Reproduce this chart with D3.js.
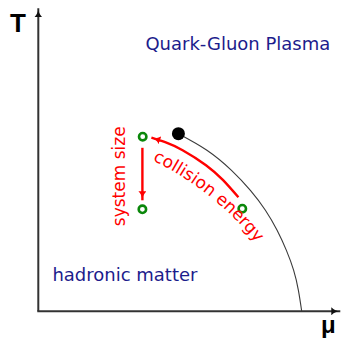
<!DOCTYPE html>
<html><head><meta charset="utf-8">
<script src="https://cdn.jsdelivr.net/npm/d3@7"></script>
<style>html,body{margin:0;padding:0;background:#fff;overflow:hidden}</style>
</head><body><svg id="chart" width="342" height="343"></svg>
<script>
// ---- data (in chart units: mu and T, both 0..1 along the axes) ----
const axisLabels = ["μ", "T"];
const regionLabels = ["Quark-Gluon Plasma", "hadronic matter"];
const regionMu = [0.357, 0.047];
const regionT = [0.87, 0.10];
const phaseMu = [0.467, 0.562, 0.644, 0.707, 0.757, 0.796, 0.827, 0.851, 0.867, 0.878];
const phaseT  = [0.592, 0.537, 0.470, 0.403, 0.337, 0.270, 0.203, 0.137, 0.070, 0.000];
const criticalMu = [0.467];
const criticalT = [0.592];
const systemMu = [0.348, 0.347, 0.680];
const systemT  = [0.582, 0.340, 0.342];
const energyArrowMu = [0.667, 0.616, 0.559, 0.481, 0.425, 0.377];
const energyArrowT  = [0.380, 0.437, 0.487, 0.537, 0.563, 0.579];
const sizeArrowMu = [0.347, 0.347];
const sizeArrowT  = [0.545, 0.370];
const arrowLabels = ["collision energy", "system size"];
const energyLabelPathMu = [0.366, 0.832];
const energyLabelPathT  = [0.510, 0.068];
const sizeLabelMu = [0.290];
const sizeLabelT = [0.450];

const W = 342, H = 343;
const svg = d3.select("#chart");
const x = d3.scaleLinear().domain([0, 1]).range([38.3, 338.3]);
const y = d3.scaleLinear().domain([0, 1]).range([311.3, 11.3]);

const defs = svg.append("defs");
function marker(id, color, len, wid) {
  defs.append("marker").attr("id", id)
    .attr("markerUnits", "userSpaceOnUse")
    .attr("viewBox", `0 ${-wid/2} ${len} ${wid}`)
    .attr("refX", len).attr("refY", 0)
    .attr("markerWidth", len).attr("markerHeight", wid)
    .attr("orient", "auto")
    .append("path")
    .attr("d", `M0,${-wid/2} Q${len*0.45},0 ${len},0 Q${len*0.45},0 0,${wid/2} Z`)
    .attr("fill", color);
}
marker("axArrow", "#111", 9, 8);
marker("redArrow", "#ff0000", 9, 8);

// axes
svg.append("line")
  .attr("x1", x(0)).attr("y1", y(0)).attr("x2", x(0)).attr("y2", y(1) - 3)
  .attr("stroke", "#333").attr("stroke-width", 2).attr("marker-end", "url(#axArrow)");
svg.append("line")
  .attr("x1", x(0) - 1).attr("y1", y(0)).attr("x2", x(1) + 2).attr("y2", y(0))
  .attr("stroke", "#333").attr("stroke-width", 2).attr("marker-end", "url(#axArrow)");

svg.append("text").text(axisLabels[1])
  .attr("x", 10).attr("y", 32)
  .attr("font-family", "Liberation Sans, Arial, sans-serif").attr("font-weight", "bold")
  .attr("font-size", 26).attr("fill", "#000");
svg.append("text").text(axisLabels[0])
  .attr("x", 321).attr("y", 333)
  .attr("font-family", "Liberation Sans, Arial, sans-serif").attr("font-weight", "bold")
  .attr("font-size", 24).attr("fill", "#000");

// region labels
svg.selectAll("text.region").data(regionLabels).enter().append("text")
  .attr("class", "region")
  .attr("x", (d, i) => x(regionMu[i])).attr("y", (d, i) => y(regionT[i]))
  .attr("font-family", "DejaVu Sans, sans-serif").attr("font-size", 18)
  .attr("fill", "#1c1c8c").text(d => d);

// phase boundary
const phasePts = phaseMu.map((m, i) => [m, phaseT[i]]);
svg.append("path")
  .attr("d", d3.line().x(d => x(d[0])).y(d => y(d[1])).curve(d3.curveNatural)(phasePts))
  .attr("fill", "none").attr("stroke", "#3a3a3a").attr("stroke-width", 1.1);

// critical point
svg.selectAll("circle.cp").data(criticalMu).enter().append("circle")
  .attr("class", "cp")
  .attr("cx", d => x(d)).attr("cy", (d, i) => y(criticalT[i])).attr("r", 6.5)
  .attr("fill", "#000");

// collision energy arrow
const energyPts = energyArrowMu.map((m, i) => [m, energyArrowT[i]]);
svg.append("path")
  .attr("d", d3.line().x(d => x(d[0])).y(d => y(d[1])).curve(d3.curveNatural)(energyPts))
  .attr("fill", "none").attr("stroke", "#ff0000").attr("stroke-width", 2.4)
  .attr("marker-end", "url(#redArrow)");

// system size arrow
svg.append("line")
  .attr("x1", x(sizeArrowMu[0])).attr("y1", y(sizeArrowT[0]))
  .attr("x2", x(sizeArrowMu[1])).attr("y2", y(sizeArrowT[1]))
  .attr("stroke", "#ff0000").attr("stroke-width", 2.4)
  .attr("marker-end", "url(#redArrow)");

// systems (open green circles)
svg.selectAll("circle.sys").data(systemMu).enter().append("circle")
  .attr("class", "sys")
  .attr("cx", d => x(d)).attr("cy", (d, i) => y(systemT[i])).attr("r", 3.7)
  .attr("fill", "#fff").attr("stroke", "#0a870a").attr("stroke-width", 2.6);

// collision energy label along an arc
const p0 = [x(energyLabelPathMu[0]), y(energyLabelPathT[0])];
const p1 = [x(energyLabelPathMu[1]), y(energyLabelPathT[1])];
const R = 300;
defs.append("path").attr("id", "energyPath")
  .attr("d", `M${p0[0]},${p0[1]} A${R},${R} 0 0 1 ${p1[0]},${p1[1]}`);
svg.append("text")
  .attr("font-family", "DejaVu Sans, sans-serif").attr("font-size", 17)
  .attr("fill", "#ff0000")
  .append("textPath").attr("href", "#energyPath").attr("startOffset", 5)
  .text(arrowLabels[0]);

// system size label (rotated)
svg.append("text")
  .attr("transform", `translate(${x(sizeLabelMu[0])},${y(sizeLabelT[0])}) rotate(-90)`)
  .attr("text-anchor", "middle")
  .attr("font-family", "DejaVu Sans, sans-serif").attr("font-size", 17)
  .attr("fill", "#ff0000").text(arrowLabels[1]);
</script></body></html>
